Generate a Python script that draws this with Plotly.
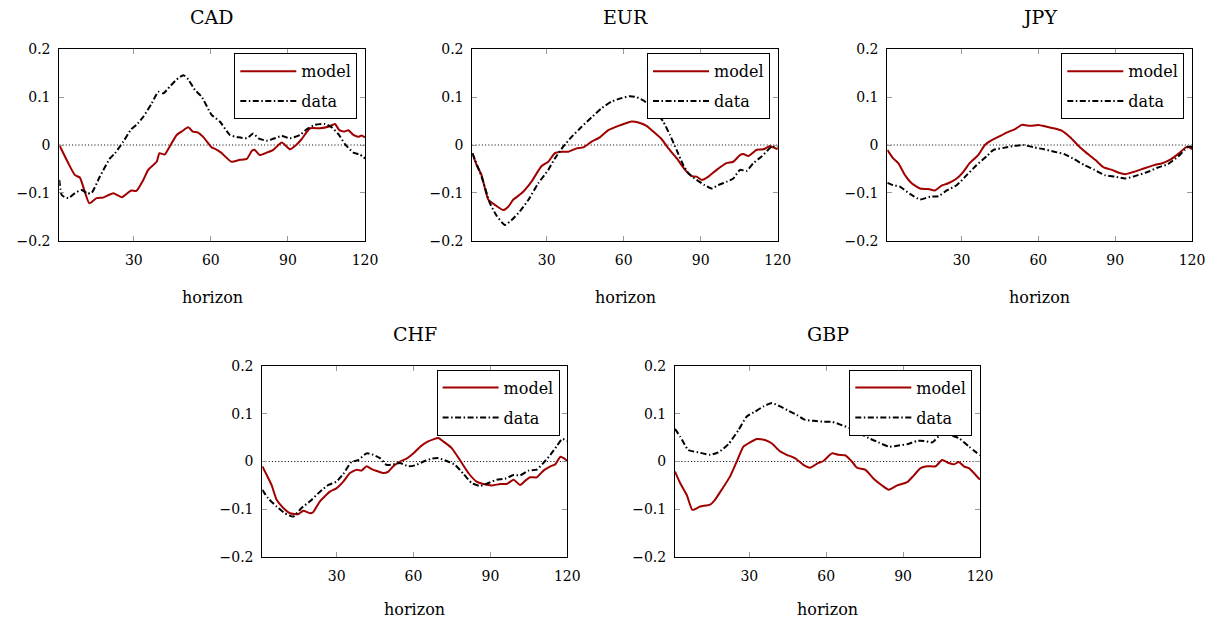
import plotly.graph_objects as go

# ---------------- data ----------------
currencies = ["CAD", "EUR", "JPY", "CHF", "GBP"]

cad_model_x = [1, 4.5, 7.1, 9, 12.7, 15.5, 18, 22, 25.3, 29, 31, 33.7, 35.6, 38.9, 40, 42, 44, 46.7, 48.6, 51.2, 53, 55, 57, 60.3, 62, 64, 68, 71.3, 74, 76, 77, 79, 81.7, 84.3, 87.6, 90.8, 93.4, 95.3, 98.6, 102.5, 105.7, 108.3, 110, 112, 113.5, 115.5, 117.4, 118.7, 120]
cad_model_y = [0, -0.038, -0.063, -0.068, -0.122, -0.111, -0.11, -0.101, -0.109, -0.095, -0.096, -0.073, -0.052, -0.035, -0.017, -0.02, -0.003, 0.021, 0.028, 0.037, 0.028, 0.026, 0.017, -0.005, -0.009, -0.016, -0.035, -0.031, -0.029, -0.012, -0.01, -0.021, -0.016, -0.01, 0.005, -0.009, 0.001, 0.012, 0.035, 0.035, 0.038, 0.044, 0.031, 0.028, 0.031, 0.021, 0.017, 0.02, 0.016]
cad_data_x = [1, 2, 4.5, 7, 9.7, 11.9, 13.6, 16.8, 20.7, 22.7, 25.9, 29, 31, 33.7, 37, 39.5, 41.5, 44, 46.7, 49.3, 51.2, 53.8, 56.4, 60.3, 63.5, 67.4, 70.7, 74, 76.5, 78.5, 81.7, 84.3, 87.6, 90.8, 94.7, 97.3, 100.5, 104.4, 107, 109.6, 112.2, 115.5, 118, 120]
cad_data_y = [-0.073, -0.105, -0.111, -0.101, -0.094, -0.101, -0.1, -0.066, -0.028, -0.017, 0.007, 0.033, 0.042, 0.059, 0.087, 0.111, 0.108, 0.122, 0.137, 0.146, 0.137, 0.115, 0.101, 0.063, 0.049, 0.021, 0.016, 0.014, 0.024, 0.014, 0.009, 0.013, 0.019, 0.014, 0.021, 0.033, 0.042, 0.044, 0.037, 0.023, 0.002, -0.016, -0.02, -0.028]

eur_model_x = [1, 2.7, 4.6, 7.2, 9.8, 13.1, 15, 17, 20.2, 24, 28, 30.6, 33.2, 35.8, 38.4, 41.6, 44.2, 47.5, 50.7, 54, 57.9, 60.5, 63, 65.7, 68.9, 71.5, 74.8, 77.4, 80.7, 83.9, 86.5, 88.4, 90.4, 93, 96.2, 100, 102.7, 105.3, 106.6, 108.6, 111.8, 114.4, 117, 118.3, 120]
eur_model_y = [-0.017, -0.042, -0.063, -0.114, -0.125, -0.136, -0.129, -0.114, -0.101, -0.077, -0.044, -0.035, -0.017, -0.014, -0.014, -0.007, -0.005, 0.007, 0.016, 0.031, 0.04, 0.045, 0.049, 0.047, 0.04, 0.028, 0.012, -0.007, -0.028, -0.052, -0.065, -0.066, -0.073, -0.066, -0.052, -0.038, -0.035, -0.021, -0.019, -0.023, -0.01, -0.009, -0.002, -0.005, -0.009]
eur_data_x = [1, 4.6, 7.9, 10.5, 13.7, 16.3, 19.5, 22.8, 26.7, 30.6, 33.2, 36.5, 39.7, 43.6, 47.5, 51.4, 55.3, 59.2, 62.4, 65, 68, 71, 75.4, 78, 80.6, 83.2, 85.2, 88.4, 91.6, 94.2, 96.8, 100, 102.7, 105.3, 107.9, 110.5, 113.7, 116.3, 117.9, 120]
eur_data_y = [-0.017, -0.066, -0.122, -0.148, -0.167, -0.157, -0.139, -0.115, -0.08, -0.052, -0.028, -0.003, 0.017, 0.038, 0.058, 0.077, 0.091, 0.098, 0.102, 0.1, 0.092, 0.077, 0.049, 0.021, -0.01, -0.042, -0.059, -0.073, -0.084, -0.091, -0.084, -0.077, -0.07, -0.052, -0.054, -0.038, -0.024, -0.01, -0.002, -0.005]

jpy_model_x = [1, 3.3, 5.3, 7.9, 10.5, 13.8, 17, 19.6, 22.2, 24.8, 28.1, 30.7, 33.3, 36.5, 39.1, 41.8, 44.4, 47.6, 50.9, 53.5, 56.8, 60, 63.3, 65.9, 69.1, 72.4, 75.7, 78.9, 82.2, 85.5, 88.8, 91.4, 94, 97.3, 101.2, 105.2, 108.4, 111.7, 115, 117.6, 118.9, 120]
jpy_model_y = [-0.01, -0.028, -0.038, -0.063, -0.08, -0.091, -0.092, -0.095, -0.085, -0.08, -0.07, -0.056, -0.037, -0.021, 0, 0.01, 0.017, 0.026, 0.033, 0.042, 0.04, 0.042, 0.038, 0.035, 0.03, 0.016, -0.002, -0.017, -0.031, -0.047, -0.052, -0.058, -0.061, -0.056, -0.049, -0.042, -0.038, -0.03, -0.017, -0.005, -0.005, -0.009]
jpy_data_x = [1, 3.3, 5.9, 9.8, 13.8, 17.7, 21, 24.2, 28.1, 32, 35.9, 39.9, 42.5, 46.4, 50.4, 54.3, 58.3, 62.2, 66.2, 70.1, 74.1, 78, 82, 85.9, 89.8, 94, 98.9, 102.8, 106.7, 110.6, 114.6, 117.2, 119, 120]
jpy_data_y = [-0.079, -0.084, -0.087, -0.102, -0.114, -0.108, -0.107, -0.095, -0.084, -0.063, -0.042, -0.023, -0.01, -0.006, -0.002, 0, -0.005, -0.009, -0.014, -0.019, -0.03, -0.042, -0.052, -0.063, -0.066, -0.07, -0.063, -0.056, -0.047, -0.04, -0.024, -0.01, -0.002, -0.005]

chf_model_x = [1, 2.7, 4.6, 6.6, 9.2, 11.8, 15, 17, 19.6, 20.8, 23.5, 27.4, 29.9, 32.6, 35.2, 37.8, 39.7, 41.7, 43.7, 46.3, 48.2, 50.2, 52.1, 54.7, 57.3, 60, 62.6, 65.7, 69.7, 71.6, 74.9, 78.1, 81.4, 84.6, 87.2, 90.5, 93.8, 96.4, 99, 101.6, 103.6, 105.5, 108.1, 110.7, 113.4, 115.3, 117.3, 118.6, 120]
chf_model_y = [-0.01, -0.028, -0.049, -0.08, -0.097, -0.108, -0.11, -0.103, -0.108, -0.106, -0.083, -0.063, -0.056, -0.042, -0.024, -0.017, -0.019, -0.01, -0.016, -0.021, -0.024, -0.021, -0.01, 0, 0.006, 0.017, 0.031, 0.042, 0.049, 0.042, 0.028, 0.003, -0.024, -0.042, -0.047, -0.05, -0.047, -0.047, -0.038, -0.049, -0.04, -0.033, -0.033, -0.019, -0.01, -0.006, 0.01, 0.007, 0.001]
chf_data_x = [1, 3.3, 6.6, 9.8, 13.1, 16.3, 19.6, 23.5, 26.8, 29.9, 32.6, 35.8, 38.4, 41.7, 44.3, 46.9, 49.5, 52.1, 54.7, 58, 60.6, 63.9, 67.2, 69.7, 73, 76.2, 79.5, 82.7, 86, 89.2, 92.5, 95.7, 99, 101.6, 104.9, 108.1, 110.7, 113.4, 116, 118, 120]
chf_data_y = [-0.059, -0.077, -0.094, -0.108, -0.115, -0.097, -0.083, -0.063, -0.049, -0.042, -0.026, -0.001, 0.003, 0.017, 0.014, 0.007, -0.007, -0.006, -0.003, -0.01, -0.008, 0, 0.006, 0.007, 0.001, -0.007, -0.026, -0.045, -0.051, -0.045, -0.038, -0.036, -0.028, -0.029, -0.019, -0.017, -0.003, 0.014, 0.033, 0.047, 0.043]

gbp_model_x = [1, 3, 5.6, 7.8, 10.8, 14.7, 16.6, 19.2, 22.5, 25.1, 27.7, 30.3, 32.9, 36.1, 38.7, 42, 44.6, 47.8, 51.1, 53.7, 56.9, 58.9, 62.2, 64.8, 67.4, 70, 72, 75.2, 78.5, 81.8, 84.4, 87.7, 91.6, 94.2, 96.8, 99.4, 102.7, 105.2, 107.8, 109.8, 111.7, 113.7, 115.7, 117.6, 120]
gbp_model_y = [-0.021, -0.045, -0.07, -0.101, -0.094, -0.09, -0.08, -0.059, -0.031, 0, 0.031, 0.04, 0.047, 0.045, 0.038, 0.021, 0.014, 0.007, -0.007, -0.013, -0.003, 0.001, 0.017, 0.014, 0.013, 0, -0.013, -0.017, -0.036, -0.05, -0.059, -0.05, -0.043, -0.029, -0.014, -0.01, -0.01, 0.003, -0.003, -0.006, -0.001, -0.01, -0.014, -0.024, -0.038]
gbp_data_x = [1, 3, 6.2, 10.1, 14.7, 17.9, 21.8, 25.8, 29, 32.2, 35.5, 38.8, 42, 45.3, 48.6, 51.8, 55.1, 59, 62.2, 65.5, 69, 72.5, 76.5, 80.4, 84.4, 87.7, 91.6, 95.5, 98.1, 101.4, 104.6, 107.8, 111.7, 115.7, 120]
gbp_data_y = [0.068, 0.052, 0.024, 0.019, 0.014, 0.019, 0.036, 0.066, 0.094, 0.104, 0.115, 0.122, 0.115, 0.106, 0.097, 0.087, 0.085, 0.083, 0.083, 0.077, 0.07, 0.06, 0.049, 0.04, 0.031, 0.033, 0.036, 0.043, 0.043, 0.04, 0.056, 0.056, 0.049, 0.031, 0.013]

series = {
    "CAD": (cad_model_x, cad_model_y, cad_data_x, cad_data_y),
    "EUR": (eur_model_x, eur_model_y, eur_data_x, eur_data_y),
    "JPY": (jpy_model_x, jpy_model_y, jpy_data_x, jpy_data_y),
    "CHF": (chf_model_x, chf_model_y, chf_data_x, chf_data_y),
    "GBP": (gbp_model_x, gbp_model_y, gbp_data_x, gbp_data_y),
}

x_ticks = [30, 60, 90, 120]
x_tick_text = ["30", "60", "90", "120"]
y_ticks = [-0.2, -0.1, 0, 0.1, 0.2]
y_tick_text = ["\u22120.2", "\u22120.1", "0", "0.1", "0.2"]
x_label = "horizon"
legend_names = ["model", "data"]

# ---------------- layout (pixel positions of plot areas) ----------------
W, H = 1221, 622
boxes = {  # left, right, top, bottom in px
    "CAD": (59.3, 365.0, 49.3, 240.7),
    "EUR": (472.3, 777.7, 49.3, 240.7),
    "JPY": (887.3, 1192.0, 49.3, 240.7),
    "CHF": (262.3, 567.3, 365.7, 557.3),
    "GBP": (675.0, 980.0, 365.7, 557.3),
}
label_offset = {"CAD": 57, "EUR": 57, "JPY": 57, "CHF": 52, "GBP": 52}

FONT = "DejaVu Serif"
RED = "#a00000"

fig = go.Figure()
layout = dict(
    width=W, height=H,
    margin=dict(l=0, r=0, t=0, b=0, pad=0, autoexpand=False),
    paper_bgcolor="white", plot_bgcolor="white",
    font=dict(family=FONT, size=14, color="black"),
    showlegend=True,
    annotations=[], shapes=[],
)

for i, cur in enumerate(currencies):
    k = "" if i == 0 else str(i + 1)
    l, r, t, b = boxes[cur]
    mx, my, dx, dy = series[cur]
    leg = "legend" + k
    fig.add_trace(go.Scatter(
        x=mx, y=my, mode="lines", name=legend_names[0],
        line=dict(color=RED, width=2, shape="spline", smoothing=0.5),
        xaxis="x" + k, yaxis="y" + k, legend=leg, legendgroup=cur + "m",
        hoverinfo="skip"))
    fig.add_trace(go.Scatter(
        x=dx, y=dy, mode="lines", name=legend_names[1],
        line=dict(color="black", width=2, dash="6px,2.5px,1.5px,2.5px",
                  shape="spline", smoothing=0.5),
        xaxis="x" + k, yaxis="y" + k, legend=leg, legendgroup=cur + "d",
        hoverinfo="skip"))

    axcommon = dict(showline=True, linecolor="black", linewidth=1, mirror="ticks",
                    ticks="inside", ticklen=5, tickcolor="#999999", tickwidth=1,
                    showgrid=False, zeroline=False, automargin=False,
                    tickfont=dict(family=FONT, size=14, color="black"))
    layout["xaxis" + k] = dict(
        domain=[l / W, r / W], anchor="y" + k, range=[1, 120],
        tickvals=x_ticks, ticktext=x_tick_text, ticklabelstandoff=6, **axcommon)
    layout["yaxis" + k] = dict(
        domain=[1 - b / H, 1 - t / H], anchor="x" + k, range=[-0.2, 0.2],
        tickvals=y_ticks, ticktext=y_tick_text, ticklabelstandoff=5, **axcommon)

    layout[leg] = dict(
        x=(r - 7.7) / W, y=1 - (t + 4) / H, xanchor="right", yanchor="top",
        xref="paper", yref="paper",
        bgcolor="white", bordercolor="black", borderwidth=1,
        font=dict(family=FONT, size=16, color="black"),
        itemwidth=56, tracegroupgap=6, traceorder="grouped",
    )

    layout["shapes"].append(dict(
        type="line", xref="x" + k, yref="y" + k, x0=1, x1=120, y0=0, y1=0,
        line=dict(color="black", width=1, dash="1px,2.2px"), layer="below"))

    cx = (l + r) / 2 / W
    layout["annotations"].append(dict(
        text=cur, x=cx, y=1 - (t - 32) / H, xref="paper", yref="paper",
        xanchor="center", yanchor="middle", showarrow=False,
        font=dict(family=FONT, size=19, color="black")))
    layout["annotations"].append(dict(
        text=x_label, x=cx, y=1 - (b + label_offset[cur]) / H,
        xref="paper", yref="paper",
        xanchor="center", yanchor="middle", showarrow=False,
        font=dict(family=FONT, size=16, color="black")))

fig.update_layout(**layout)
fig.write_html(
    "out.html",
    config={"displayModeBar": False},
    post_script=(
        "document.documentElement.style.overflow='hidden';"
        "document.body.style.margin='0';document.body.style.padding='0';"
    ),
)
